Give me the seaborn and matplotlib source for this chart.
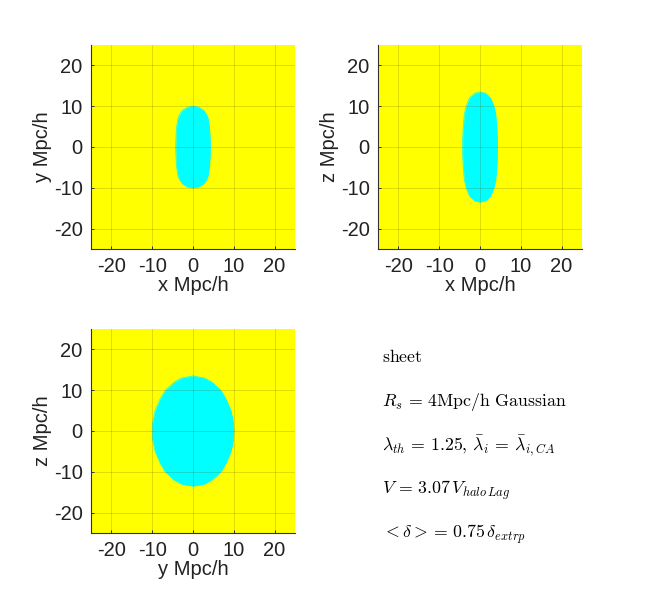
import matplotlib
matplotlib.use("Agg")
import matplotlib.pyplot as plt
import seaborn as sns
import pandas as pd

sns.set_theme(style="white")
plt.rcParams['font.family'] = ['Liberation Sans', 'DejaVu Sans']
plt.rcParams['mathtext.fontset'] = 'cm'

# outline of each region: height along the axis, half-width
xy_h = [-10, -9.8, -9, -8, -7, -5, -3, 0, 3, 5, 7, 8, 9, 9.8, 10]
xy_w = [0, 1.3, 2.6, 3.3, 3.7, 4.0, 4.15, 4.25, 4.15, 4.0, 3.7, 3.3, 2.6, 1.3, 0]
xz_h = [-13.5, -13.2, -12, -10, -8, -5, -2, 0, 2, 5, 8, 10, 12, 13.2, 13.5]
xz_w = [0, 1.3, 2.6, 3.4, 3.85, 4.1, 4.25, 4.25, 4.25, 4.1, 3.85, 3.4, 2.6, 1.3, 0]
yz_h = [-13.5, -13, -12, -10, -8, -5, -2, 0, 2, 5, 8, 10, 12, 13, 13.5]
yz_w = [0, 2.8, 4.6, 6.8, 8.0, 9.3, 9.9, 10, 9.9, 9.3, 8.0, 6.8, 4.6, 2.8, 0]

ticks = [-20, -10, 0, 10, 20]
tick_labels = ['-20', '-10', '0', '10', '20']
panels = [
    ('x Mpc/h', 'y Mpc/h', xy_h, xy_w, (91, 45)),
    ('x Mpc/h', 'z Mpc/h', xz_h, xz_w, (378, 45)),
    ('y Mpc/h', 'z Mpc/h', yz_h, yz_w, (91, 329)),
]
notes = [
    (358, r'${\rm sheet}$'),
    (402, r'$R_s\,=\,4{\rm Mpc/h\ Gaussian}$'),
    (446, r'$\lambda_{th}\,=\,1.25,\,\bar{\lambda}_i\,=\,\bar{\lambda}_{i,CA}$'),
    (490, r'$V\,=\,3.07\,V_{halo\,Lag}$'),
    (534, r'$<\delta>=\,0.75\,\delta_{extrp}$'),
]

W, H = 650, 600
fig = plt.figure(figsize=(W / 100, H / 100), dpi=100, facecolor='white')
for xlabel, ylabel, h, w, (px, py) in panels:
    ax = fig.add_axes([px / W, 1 - (py + 204) / H, 204 / W, 204 / H])
    ax.set_facecolor('#ffff00')
    df = pd.DataFrame({'h': h, 'left': [-v for v in w], 'right': w})
    ax.fill_betweenx(df['h'], df['left'], df['right'], color='#00ffff', lw=0, zorder=1.5)
    sns.lineplot(data=df, x='right', y='h', orient='y', sort=False, color='#00ffff', lw=0.5, ax=ax, zorder=1.6)
    sns.lineplot(data=df, x='left', y='h', orient='y', sort=False, color='#00ffff', lw=0.5, ax=ax, zorder=1.6)
    ax.set_xlim(-25, 25)
    ax.set_ylim(-25, 25)
    ax.set_xticks(ticks, tick_labels)
    ax.set_yticks(ticks, tick_labels)
    ax.grid(True, color='#555500', alpha=0.2, lw=0.7, zorder=2)
    ax.set_axisbelow(False)
    ax.tick_params(direction='in', length=2, width=0.7, color='#333333', labelsize=14.5,
                   labelcolor='#222222', pad=6, left=True, bottom=True)
    ax.set_xlabel(xlabel, fontsize=14.5, color='#222222', labelpad=0)
    ax.set_ylabel(ylabel, fontsize=14.5, color='#222222', labelpad=1)
    sns.despine(ax=ax)
    for s in ('left', 'bottom'):
        ax.spines[s].set_color('#333333')
        ax.spines[s].set_linewidth(0.8)

for y, text in notes:
    fig.text(382 / W, 1 - y / H, text, fontsize=12.8, color='black', va='center', ha='left',
             math_fontfamily='cm')

fig.savefig('out.png', dpi=100, facecolor='white')
